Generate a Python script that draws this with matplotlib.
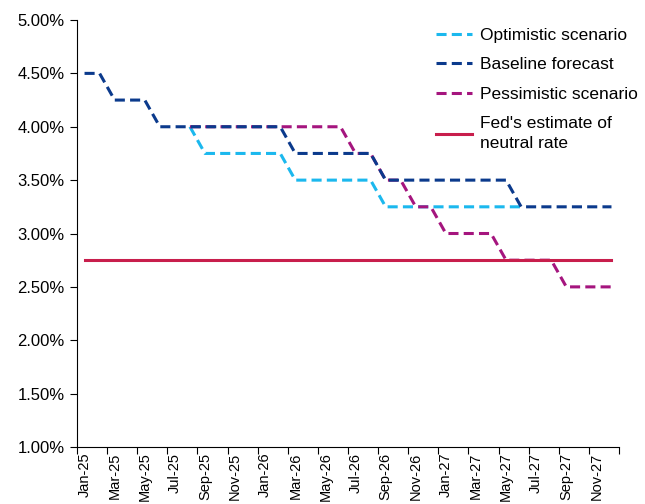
import numpy as np
import matplotlib
matplotlib.use("Agg")
import matplotlib.pyplot as plt

plt.rcParams['font.family'] = ['Liberation Sans', 'DejaVu Sans']

# monthly categories Jan-25 .. Dec-27
months = ['Jan-25', 'Feb-25', 'Mar-25', 'Apr-25', 'May-25', 'Jun-25',
          'Jul-25', 'Aug-25', 'Sep-25', 'Oct-25', 'Nov-25', 'Dec-25',
          'Jan-26', 'Feb-26', 'Mar-26', 'Apr-26', 'May-26', 'Jun-26',
          'Jul-26', 'Aug-26', 'Sep-26', 'Oct-26', 'Nov-26', 'Dec-26',
          'Jan-27', 'Feb-27', 'Mar-27', 'Apr-27', 'May-27', 'Jun-27',
          'Jul-27', 'Aug-27', 'Sep-27', 'Oct-27', 'Nov-27', 'Dec-27']

na = np.nan
baseline = [4.50, 4.50, 4.25, 4.25, 4.25, 4.00,
            4.00, 4.00, 4.00, 4.00, 4.00, 4.00,
            4.00, 4.00, 3.75, 3.75, 3.75, 3.75,
            3.75, 3.75, 3.50, 3.50, 3.50, 3.50,
            3.50, 3.50, 3.50, 3.50, 3.50, 3.25,
            3.25, 3.25, 3.25, 3.25, 3.25, 3.25]
optimistic = [na, na, na, na, na, na,
              na, 4.00, 3.75, 3.75, 3.75, 3.75,
              3.75, 3.75, 3.50, 3.50, 3.50, 3.50,
              3.50, 3.50, 3.25, 3.25, 3.25, 3.25,
              3.25, 3.25, 3.25, 3.25, 3.25, 3.25,
              na, na, na, na, na, na]
pessimistic = [na, na, na, na, na, na,
               na, 4.00, 4.00, 4.00, 4.00, 4.00,
               4.00, 4.00, 4.00, 4.00, 4.00, 4.00,
               3.75, 3.75, 3.50, 3.50, 3.25, 3.25,
               3.00, 3.00, 3.00, 3.00, 2.75, 2.75,
               2.75, 2.75, 2.50, 2.50, 2.50, 2.50]
neutral = [2.75] * 36

labels = ['Optimistic scenario', 'Baseline forecast', 'Pessimistic scenario',
          "Fed's estimate of\nneutral rate"]
colors = ['#1BB8EE', '#0B3A8C', '#A5157E', '#C81E4C']

x = np.arange(len(months))

fig = plt.figure(figsize=(6.45, 5.04), dpi=100)
ax = fig.add_axes([0.1194, 0.1131, 0.8403, 0.8472])

dash = (3.3, 1.7)
l1, = ax.plot(x, optimistic, color=colors[0], lw=2.2, dashes=dash)
l3, = ax.plot(x, pessimistic, color=colors[2], lw=2.2, dashes=dash)
l2, = ax.plot(x, baseline, color=colors[1], lw=2.2, dashes=dash)
l4, = ax.plot(x, neutral, color=colors[3], lw=2.2)

ax.set_xlim(-0.5, 35.5)
ax.set_ylim(1.0, 5.0)
yt = np.arange(1.0, 5.01, 0.5)
ax.set_yticks(yt)
ax.set_yticklabels(['%.2f%%' % v for v in yt], fontsize=12)

ax.set_xticks(x[::2])
ax.set_xticklabels(months[::2], rotation=90, fontsize=10.5)
ax.set_xticks(np.arange(-0.5, 36, 2), minor=True)
ax.tick_params(axis='x', which='major', length=0, pad=4)
ax.tick_params(axis='x', which='minor', length=5, width=0.8, direction='out')
ax.tick_params(axis='y', length=5, width=0.8, direction='out', pad=4)

for s in ['top', 'right']:
    ax.spines[s].set_visible(False)
for s in ['left', 'bottom']:
    ax.spines[s].set_linewidth(0.8)

leg = ax.legend([l1, l2, l3, l4], labels, loc='upper left',
                bbox_to_anchor=(0.676, 0.945), bbox_transform=fig.transFigure,
                frameon=False, fontsize=12.5, handlelength=2.07,
                handletextpad=0.46, labelspacing=0.82, borderpad=0,
                borderaxespad=0)
leg.get_texts()[3].set_linespacing(1.45)

fig.savefig('out.png', dpi=100)
